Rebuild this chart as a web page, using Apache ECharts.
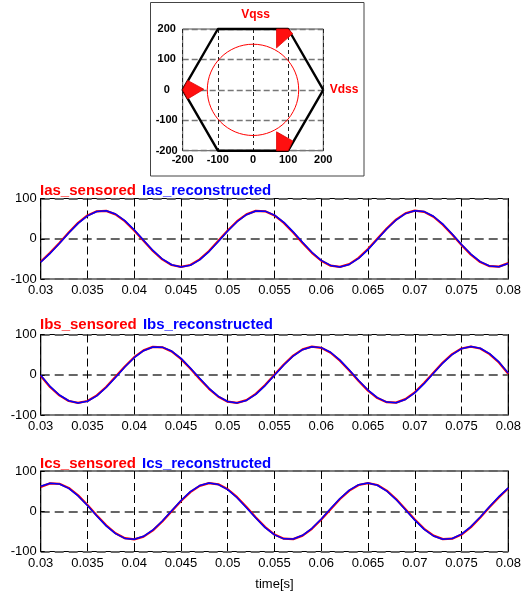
<!DOCTYPE html>
<html>
<head>
<meta charset="utf-8">
<script src="https://cdn.jsdelivr.net/npm/echarts@6/dist/echarts.min.js"></script>
<style>
html,body{margin:0;padding:0;background:#fff;}
#c{width:528px;height:593px;}
</style>
</head>
<body>
<div id="c"></div>
<script>
// ---------- data ----------
var hexX = [200, 100, -100, -200, -100, 100, 200];
var hexY = [0, 200, 200, 0, -200, -200, 0];
var circle = [0, 0, 130, 150]; // centre x, centre y, radius x, radius y (data units)
var fanTopX = [67, 100, 113, 67];
var fanTopY = [200, 200, 185, 138];
var fanLeftX = [-200, -186, -140, -186];
var fanLeftY = [0, 31, 2, -30];
var fanBottomX = [67, 113, 100, 67];
var fanBottomY = [-138, -168, -200, -200];
var hexTicks = [-200, -100, 0, 100, 200];

var time = [0.030,0.031,0.032,0.033,0.034,0.035,0.036,0.037,0.038,0.039,
            0.040,0.041,0.042,0.043,0.044,0.045,0.046,0.047,0.048,0.049,
            0.050,0.051,0.052,0.053,0.054,0.055,0.056,0.057,0.058,0.059,
            0.060,0.061,0.062,0.063,0.064,0.065,0.066,0.067,0.068,0.069,
            0.070,0.071,0.072,0.073,0.074,0.075,0.076,0.077,0.078,0.079,0.080];

var iasSensored = [-57.0,-35.0,-10.4,15.6,39.4,57.8,68.2,69.2,60.6,43.6,20.6,-5.2,-30.4,-51.3,-65.2,-70.0,-65.2,-51.3,-30.4,-5.2,20.6,43.6,60.6,69.2,68.2,57.8,39.4,15.6,-10.4,-35.0,-54.7,-66.9,-69.8,-63.1,-47.6,-25.6,0.0,25.6,47.6,63.1,69.8,66.9,54.7,35.0,10.4,-15.6,-39.4,-57.8,-68.2,-69.2,-60.6];
var iasRecon = [-58.2,-36.4,-12.0,14.1,38.2,56.9,67.8,69.6,61.5,45.0,22.2,-3.7,-29.0,-50.2,-64.6,-70.1,-65.9,-52.5,-31.9,-6.8,19.1,42.3,59.8,68.8,68.6,58.8,40.8,17.1,-8.9,-33.6,-53.7,-66.3,-70.0,-63.9,-48.9,-27.1,-1.5,24.2,46.4,62.4,69.6,67.5,55.8,36.4,11.9,-14.1,-38.1,-56.9,-67.8,-69.5,-61.6];
var ibsSensored = [-2.5,-30.4,-51.3,-65.2,-70.0,-65.2,-51.3,-30.4,-5.2,20.6,43.6,60.6,69.2,68.2,57.8,39.4,15.6,-10.4,-35.0,-54.7,-66.9,-69.8,-63.1,-47.6,-25.6,0.0,25.6,47.6,63.1,69.8,66.9,54.7,35.0,10.4,-15.6,-39.4,-57.8,-68.2,-69.2,-60.6,-43.6,-20.6,5.2,30.4,51.3,65.2,70.0,65.2,51.3,30.4,2.5];
var ibsRecon = [-1.0,-28.9,-50.3,-64.6,-70.0,-65.8,-52.4,-31.8,-6.7,19.2,42.4,59.7,68.9,68.5,58.9,40.7,17.0,-8.8,-33.7,-53.6,-66.4,-69.9,-63.8,-48.8,-27.0,-1.4,24.3,46.5,62.3,69.7,67.4,55.9,36.3,12.0,-14.2,-38.0,-56.8,-67.9,-69.4,-61.5,-45.0,-22.1,3.7,29.0,50.2,64.7,70.1,65.8,52.4,31.9,4.0];
var icsSensored = [60.6,69.2,68.2,57.8,39.4,15.6,-10.4,-35.0,-54.7,-66.9,-69.8,-63.1,-47.6,-25.6,0.0,25.6,47.6,63.1,69.8,66.9,54.7,35.0,10.4,-15.6,-39.4,-57.8,-68.2,-69.2,-60.6,-43.6,-20.6,5.2,30.4,51.3,65.2,70.0,65.2,51.3,30.4,5.2,-20.6,-43.6,-60.6,-69.2,-68.2,-57.8,-39.4,-15.6,10.4,35.0,57.0];
var icsRecon = [61.9,69.5,67.7,56.8,38.1,14.2,-11.8,-36.3,-55.7,-67.5,-69.6,-62.3,-46.4,-24.2,1.4,26.9,48.8,63.8,70.0,66.3,53.7,33.6,8.9,-17.0,-40.7,-58.8,-68.6,-68.8,-59.7,-42.4,-19.2,6.6,31.8,52.4,65.9,70.0,64.6,50.2,29.0,3.7,-22.1,-45.0,-61.5,-69.5,-67.8,-56.9,-38.1,-14.1,11.9,36.4,58.0];

var timeTicks = [0.03,0.035,0.04,0.045,0.05,0.055,0.06,0.065,0.07,0.075,0.08];
var currentTicks = [-100, 0, 100];
var panelNames = [['Ias_sensored','Ias_reconstructed'],['Ibs_sensored','Ibs_reconstructed'],['Ics_sensored','Ics_reconstructed']];
var sensored = [iasSensored, ibsSensored, icsSensored];
var recon = [iasRecon, ibsRecon, icsRecon];

// ---------- build ----------
var FONT = 'Liberation Sans, Arial, Helvetica, sans-serif';
function pairs(xs, ys){ var o=[]; for (var i=0;i<xs.length;i++) o.push([xs[i], ys[i]]); return o; }
var fans = [[fanTopX, fanTopY],[fanLeftX, fanLeftY],[fanBottomX, fanBottomY]];

var panelTops = [198.5, 334.5, 471];
var panelH = 80.5;
var titleTops = [182, 316.5, 455];

var grids = [{left:182.7, top:29, width:140.6, height:121.7, show:true, borderColor:'#555', borderWidth:1}];
var xAxes = [{
  gridIndex:0, type:'value', min:hexTicks[0], max:hexTicks[hexTicks.length-1], interval:100,
  axisLine:{show:false},
  axisTick:{show:true, inside:true, length:3, lineStyle:{color:'#333'}},
  axisLabel:{fontFamily:FONT, fontSize:11, fontWeight:'bold', color:'#000', margin:4},
  splitLine:{show:true, lineStyle:{color:'#222', width:1, type:[4,3]}}
}];
var yAxes = [{
  gridIndex:0, type:'value', min:hexTicks[0], max:hexTicks[hexTicks.length-1], interval:100,
  axisLine:{show:false},
  axisTick:{show:true, inside:true, length:3, lineStyle:{color:'#333'}},
  axisLabel:{fontFamily:FONT, fontSize:11, fontWeight:'bold', color:'#000', margin:16, align:'center'},
  splitLine:{show:true, lineStyle:{color:'#777', width:1.3, type:[6,3]}}
}];
var titles = [
  {text:'Vqss', left:255.5, top:9, textAlign:'center', padding:0, textStyle:{fontFamily:FONT, fontSize:12, fontWeight:'bold', color:'#ff0000'}},
  {text:'Vdss', left:344, top:84, textAlign:'center', padding:0, textStyle:{fontFamily:FONT, fontSize:12, fontWeight:'bold', color:'#ff0000'}}
];
var series = [
  {type:'line', xAxisIndex:0, yAxisIndex:0, data:pairs(hexX, hexY), symbol:'none', clip:false,
   lineStyle:{color:'#000', width:2.4}, z:5, silent:true},
  {type:'custom', xAxisIndex:0, yAxisIndex:0, data:[circle], z:4, clip:false,
   renderItem:function(params, api){
     var c = api.coord([api.value(0), api.value(1)]);
     var s = api.size([api.value(2), api.value(3)]);
     return {type:'ellipse', shape:{cx:c[0], cy:c[1], rx:s[0], ry:s[1]},
             style:{fill:'none', stroke:'#ff0000', lineWidth:1}};
   }},
  {type:'custom', xAxisIndex:0, yAxisIndex:0, data:[0,1,2], z:6, clip:false,
   renderItem:function(params, api){
     var f = fans[params.dataIndex];
     var pts = [];
     for (var i=0;i<f[0].length;i++) pts.push(api.coord([f[0][i], f[1][i]]));
     return {type:'polygon', shape:{points:pts},
             style:{fill:'#ff1010', stroke:'#e00000', lineWidth:0.8}};
   }}
];

for (var p=0;p<3;p++){
  var gi = p+1;
  grids.push({left:40.7, top:panelTops[p], width:467.6, height:panelH, show:true, borderColor:'#000', borderWidth:1.2});
  xAxes.push({
    gridIndex:gi, type:'value', min:timeTicks[0], max:timeTicks[timeTicks.length-1], interval:0.005,
    axisLine:{show:false},
    axisTick:{show:true, inside:true, length:4, lineStyle:{color:'#000'}},
    axisLabel:{fontFamily:FONT, fontSize:13, color:'#000', margin:5,
      formatter:function(v){ return String(Math.round(v*1000)/1000); }},
    splitLine:{show:true, lineStyle:{color:'#000', width:1, type:[8,4]}},
    name: p===2 ? 'time[s]' : '', nameLocation:'middle', nameGap:26,
    nameTextStyle:{fontFamily:FONT, fontSize:13, color:'#000'}
  });
  yAxes.push({
    gridIndex:gi, type:'value', min:currentTicks[0], max:currentTicks[currentTicks.length-1], interval:100,
    axisLine:{show:false},
    axisTick:{show:true, inside:true, length:4, lineStyle:{color:'#000'}},
    axisLabel:{fontFamily:FONT, fontSize:13, color:'#000', margin:4},
    splitLine:{show:true, lineStyle:{color:'#666', width:1.8, type:[9,5]}}
  });
  titles.push({
    text:'{r|'+panelNames[p][0]+'} {b|'+panelNames[p][1]+'}',
    left:40, top:titleTops[p], padding:0,
    textStyle:{fontFamily:FONT, fontSize:15, fontWeight:'bold', lineHeight:17,
      rich:{
        r:{fontFamily:FONT, fontSize:15, fontWeight:'bold', color:'#ff0000', lineHeight:17, padding:[0,2,0,0]},
        b:{fontFamily:FONT, fontSize:15, fontWeight:'bold', color:'#0000ff', lineHeight:17}
      }}
  });
  series.push({type:'line', xAxisIndex:gi, yAxisIndex:gi, data:pairs(time, sensored[p]), symbol:'none', smooth:false,
    lineStyle:{color:'#ff0000', width:2.2}, z:3, silent:true});
  series.push({type:'line', xAxisIndex:gi, yAxisIndex:gi, data:pairs(time, recon[p]), symbol:'none', smooth:false,
    lineStyle:{color:'#0000ff', width:1.5}, z:4, silent:true});
}

var chart = echarts.init(document.getElementById('c'), null, {renderer:'canvas'});
chart.setOption({
  animation:false,
  backgroundColor:'#ffffff',
  title:titles,
  grid:grids,
  xAxis:xAxes,
  yAxis:yAxes,
  series:series,
  graphic:[{type:'rect', shape:{x:150.5, y:2.5, width:213.5, height:173.5}, style:{fill:'none', stroke:'#444', lineWidth:1}, z:-1, silent:true}]
});
</script>
</body>
</html>
